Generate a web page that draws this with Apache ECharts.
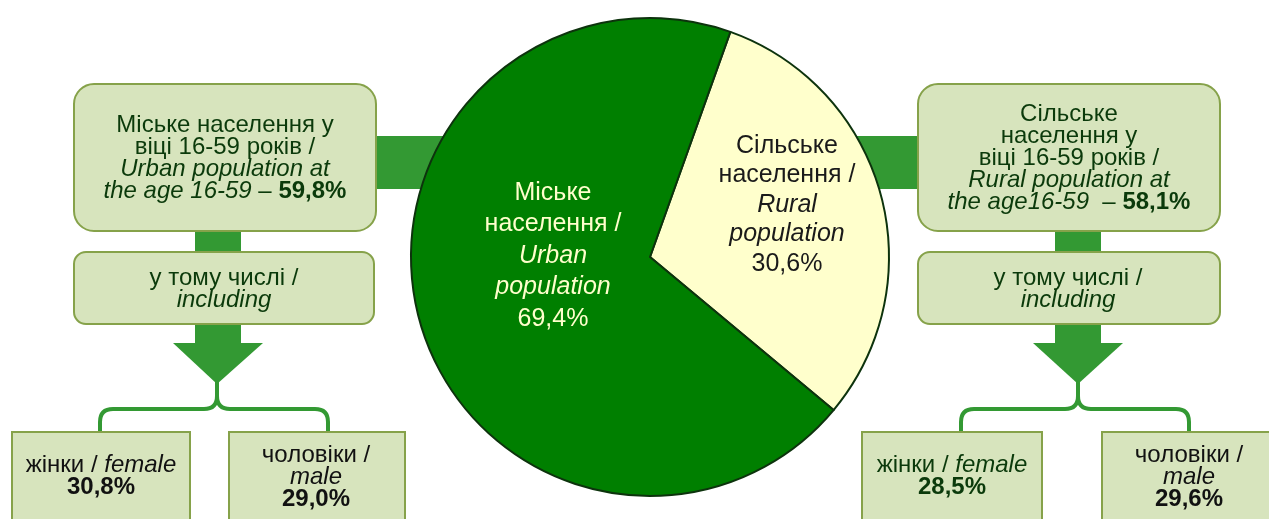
<!DOCTYPE html>
<html>
<head>
<meta charset="utf-8">
<script src="https://cdn.jsdelivr.net/npm/echarts@6/dist/echarts.min.js"></script>
<style>html,body{margin:0;padding:0;background:#fff}#c{width:1269px;height:519px}</style>
</head>
<body>
<div id="c"></div>
<script>
// ---- data ----
const pieCategories = ['Rural', 'Urban'];
const pieNamesUa = ['Сільське\nнаселення /', 'Міське\nнаселення /'];
const pieNamesEn = ['Rural\npopulation', 'Urban\npopulation'];
const pieValues = [30.6, 69.4];
const ageShare = [59.8, 58.1];      // urban, rural : aged 16-59
const femaleShare = [30.8, 28.5];   // urban, rural
const maleShare = [29.0, 29.6];     // urban, rural

const FONT = '"Liberation Sans", Arial, sans-serif';
const fmt = v => v.toFixed(1).replace('.', ',') + '%';

const BOX_FILL = '#D7E4BD', BOX_STROKE = '#86A24A', CONN = '#339933';
const TXT = '#0b3a0b';
const FS = 24;
const richBase = (c) => ({
  n: {fontSize: FS, lineHeight: 22, fontFamily: FONT, fill: c},
  i: {fontSize: FS, lineHeight: 22, fontFamily: FONT, fontStyle: 'italic', fill: c},
  b: {fontSize: FS, lineHeight: 22, fontFamily: FONT, fontWeight: 'bold', fill: c}
});
function txt(x, y, text, color) {
  return {type: 'text', z: 6, x: x, y: y, silent: true,
    style: {text: text, align: 'center', verticalAlign: 'middle',
      rich: richBase(color || TXT), fontSize: FS, fontFamily: FONT, fill: color || TXT}};
}
function rect(x, y, w, h, r, fill, stroke, lw, z) {
  return {type: 'rect', z: z, silent: true, shape: {x: x, y: y, width: w, height: h, r: r},
    style: {fill: fill, stroke: stroke || null, lineWidth: lw || 0}};
}
function seg(pts) {
  return {type: 'polyline', z: 1, silent: true, shape: {points: pts}, style: {stroke: CONN, lineWidth: 4, fill: null}};
}
function curve(x1, y1, cx, cy, x2, y2) {
  return {type: 'bezierCurve', z: 1, silent: true, shape: {x1: x1, y1: y1, cpx1: cx, cpy1: cy, x2: x2, y2: y2},
    style: {stroke: CONN, lineWidth: 4, fill: null}};
}
function bracket(tx, ty, lx, rx) {
  const hy = 409, by = 433, r = 13;
  return [
    seg([[tx, ty], [tx, hy - r]]),
    curve(tx, hy - r, tx, hy, tx - r, hy),
    curve(tx, hy - r, tx, hy, tx + r, hy),
    seg([[tx - r, hy], [lx + r, hy]]),
    seg([[tx + r, hy], [rx - r, hy]]),
    curve(lx + r, hy, lx, hy, lx, hy + r),
    curve(rx - r, hy, rx, hy, rx, hy + r),
    seg([[lx, hy + r], [lx, by]]),
    seg([[rx, hy + r], [rx, by]])
  ];
}

const graphics = [
  // connectors
  rect(370, 136, 90, 53, 0, CONN, null, 0, 1),
  rect(840, 136, 85, 53, 0, CONN, null, 0, 1),
  rect(195, 226, 46, 30, 0, CONN, null, 0, 1),
  rect(1055, 226, 46, 30, 0, CONN, null, 0, 1),
  rect(195, 320, 46, 24, 0, CONN, null, 0, 1),
  rect(1055, 320, 46, 24, 0, CONN, null, 0, 1),
  {type: 'polygon', z: 1, silent: true, shape: {points: [[173, 343], [263, 343], [217, 384]]}, style: {fill: CONN}},
  {type: 'polygon', z: 1, silent: true, shape: {points: [[1033, 343], [1123, 343], [1078, 384]]}, style: {fill: CONN}},
  ...bracket(217, 382, 100, 328),
  ...bracket(1078, 382, 961, 1189),
  // boxes
  rect(74, 84, 302, 147, 20, BOX_FILL, BOX_STROKE, 2, 5),
  rect(918, 84, 302, 147, 20, BOX_FILL, BOX_STROKE, 2, 5),
  rect(74, 252, 300, 72, 12, BOX_FILL, BOX_STROKE, 2, 5),
  rect(918, 252, 302, 72, 12, BOX_FILL, BOX_STROKE, 2, 5),
  rect(12, 432, 178, 110, 0, BOX_FILL, BOX_STROKE, 2, 5),
  rect(229, 432, 176, 110, 0, BOX_FILL, BOX_STROKE, 2, 5),
  rect(862, 432, 180, 110, 0, BOX_FILL, BOX_STROKE, 2, 5),
  rect(1102, 432, 180, 110, 0, BOX_FILL, BOX_STROKE, 2, 5),
  // texts
  txt(225, 158, '{n|Міське населення у}\n{n|віці 16-59 років /}\n{i|Urban population at}\n{i|the age 16-59}{n| – }{b|' + fmt(ageShare[0]) + '}'),
  txt(1069, 158, '{n|Сільське}\n{n|населення у}\n{n|віці 16-59 років /}\n{i|Rural population at}\n{i|the age16-59}{n|  – }{b|' + fmt(ageShare[1]) + '}'),
  txt(224, 289, '{n|у тому числі /}\n{i|including}'),
  txt(1068, 289, '{n|у тому числі /}\n{i|including}'),
  txt(101, 476, '{n|жінки / }{i|female}\n{b|' + fmt(femaleShare[0]) + '}', '#111'),
  txt(316, 477, '{n|чоловіки /}\n{i|male}\n{b|' + fmt(maleShare[0]) + '}', '#111'),
  txt(952, 476, '{n|жінки / }{i|female}\n{b|' + fmt(femaleShare[1]) + '}'),
  txt(1189, 477, '{n|чоловіки /}\n{i|male}\n{b|' + fmt(maleShare[1]) + '}', '#111')
];

const labelPos = [{x: 787, y: 205}, {x: 553, y: 256}];
const labelColor = ['#1a1a1a', '#FFFFCC'];
const lineH = [29.5, 31.5];

const chart = echarts.init(document.getElementById('c'), null, {renderer: 'canvas'});
chart.setOption({
  animation: false,
  backgroundColor: '#ffffff',
  graphic: {elements: graphics},
  series: [{
    type: 'pie',
    z: 2,
    silent: true,
    center: [650, 257],
    radius: 239,
    startAngle: 70.35,
    clockwise: true,
    avoidLabelOverlap: false,
    itemStyle: {borderColor: '#0d330d', borderWidth: 2},
    labelLine: {show: false},
    data: pieCategories.map((c, i) => ({
      name: c,
      value: pieValues[i],
      itemStyle: {color: i === 0 ? '#FFFFCC' : '#007F00'},
      label: {
        show: true,
        position: 'inside',
        formatter: () => pieNamesUa[i].split('\n').map(s => '{n|' + s + '}').join('\n') + '\n' +
          pieNamesEn[i].split('\n').map(s => '{i|' + s + '}').join('\n') + '\n{n|' + fmt(pieValues[i]) + '}',
        rich: {
          n: {fontSize: 25, fontFamily: FONT, color: labelColor[i], lineHeight: lineH[i], align: 'center'},
          i: {fontSize: 25, fontFamily: FONT, fontStyle: 'italic', color: labelColor[i], lineHeight: lineH[i], align: 'center'}
        }
      }
    })),
    labelLayout: (p) => ({x: labelPos[p.dataIndex].x, y: labelPos[p.dataIndex].y, align: 'center', verticalAlign: 'middle'})
  }]
});
</script>
</body>
</html>
